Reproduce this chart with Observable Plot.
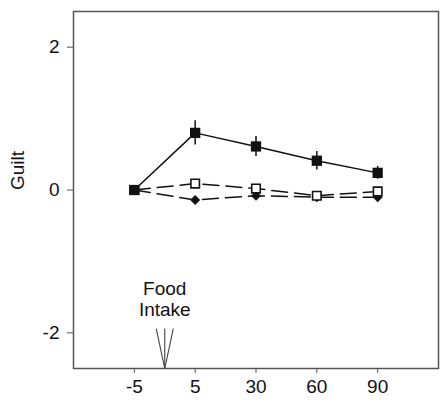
<!DOCTYPE html>
<html>
<head>
<meta charset="utf-8">
<script src="https://cdn.jsdelivr.net/npm/d3@7"></script>
<script src="https://cdn.jsdelivr.net/npm/@observablehq/plot@0.6"></script>
<style>
  body { margin: 0; background: #fff; }
  #chart svg { display: block; }
</style>
</head>
<body>
<div id="chart"></div>
<script>
// Time points (minutes relative to food intake)
const timeLabels = ["-5", "5", "30", "60", "90"];
const positions = [1, 2, 3, 4, 5];

// Series values (Guilt)
const filledValues = [0, 0.80, 0.61, 0.41, 0.24];
const filledErrors = [0, 0.17, 0.14, 0.13, 0.09];
const openValues = [0, 0.09, 0.02, -0.08, -0.02];
const openErrors = [0, 0.05, 0.04, 0.03, 0.04];
const diamondValues = [0, -0.14, -0.08, -0.10, -0.10];
const diamondErrors = [0, 0.03, 0.04, 0.03, 0.03];

const yTicks = [-2, 0, 2];
const annotationText = "Food\nIntake";
const annotationX = 1.5;

const mk = (vals, errs) => positions.map((p, i) => ({x: p, y: vals[i], lo: vals[i] - errs[i], hi: vals[i] + errs[i]}));
const filled = mk(filledValues, filledErrors);
const open = mk(openValues, openErrors);
const diamond = mk(diamondValues, diamondErrors);

const arrow = [
  {x1: annotationX - 0.14, y1: -1.94, x2: annotationX, y2: -2.5},
  {x1: annotationX, y1: -1.94, x2: annotationX, y2: -2.5},
  {x1: annotationX + 0.14, y1: -1.94, x2: annotationX, y2: -2.5}
];

const chart = Plot.plot({
  width: 442,
  height: 404,
  marginLeft: 73,
  marginRight: 4,
  marginTop: 11,
  marginBottom: 36,
  style: {fontFamily: "'Liberation Sans', Arial, sans-serif", fontSize: "19px", color: "#111", background: "#fff"},
  x: {type: "linear", domain: [0, 6]},
  y: {domain: [-2.5, 2.5]},
  marks: [
    Plot.frame({stroke: "#555", strokeWidth: 1.5}),
    Plot.axisY({ticks: yTicks, tickFormat: d => String(d), tickSize: 6, tickPadding: 8, fontSize: 19, label: null, stroke: "#555"}),
    Plot.text(["Guilt"], {frameAnchor: "left", dx: -56, rotate: -90, fontSize: 19, fill: "#111"}),
    Plot.axisX({ticks: positions, tickFormat: d => timeLabels[d - 1], tickSize: 5, tickPadding: 6, fontSize: 19, label: null, stroke: "#555"}),
    // dashed series
    Plot.line(diamond, {x: "x", y: "y", stroke: "#111", strokeWidth: 1.5, strokeDasharray: "16,7"}),
    Plot.line(open, {x: "x", y: "y", stroke: "#111", strokeWidth: 1.5, strokeDasharray: "16,7"}),
    Plot.ruleX(diamond, {x: "x", y1: "lo", y2: "hi", stroke: "#111", strokeWidth: 1.5}),
    Plot.ruleX(open, {x: "x", y1: "lo", y2: "hi", stroke: "#111", strokeWidth: 1.5}),
    Plot.dot(diamond, {x: "x", y: "y", symbol: "diamond2", r: 4.5, fill: "#111", stroke: "none"}),
    Plot.dot(open, {x: "x", y: "y", symbol: "square", r: 4.8, fill: "#fff", stroke: "#111", strokeWidth: 1.6}),
    // solid series
    Plot.line(filled, {x: "x", y: "y", stroke: "#111", strokeWidth: 1.5}),
    Plot.ruleX(filled, {x: "x", y1: "lo", y2: "hi", stroke: "#111", strokeWidth: 1.5}),
    Plot.dot(filled, {x: "x", y: "y", symbol: "square", r: 5.8, fill: "#111", stroke: "none"}),
    // annotation
    Plot.link(arrow, {x1: "x1", y1: "y1", x2: "x2", y2: "y2", stroke: "#444", strokeWidth: 1.1}),
    Plot.text([annotationText], {x: annotationX, y: -1.77, fontSize: 19, lineAnchor: "bottom", lineHeight: 1.12, fill: "#111"})
  ]
});
document.getElementById("chart").appendChild(chart);
</script>
</body>
</html>
